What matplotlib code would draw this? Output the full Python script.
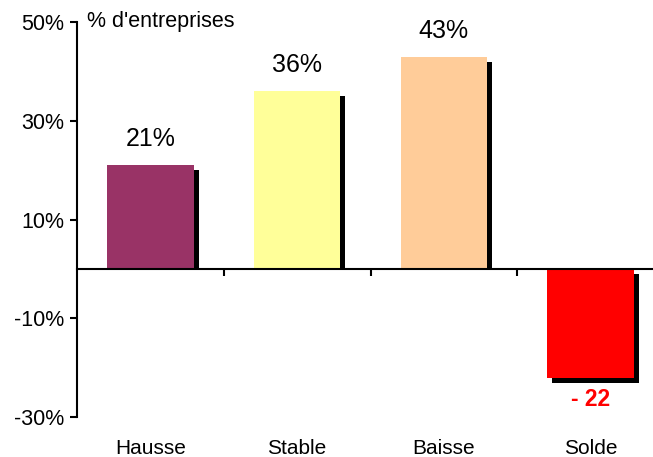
import matplotlib
matplotlib.use("Agg")
import matplotlib.pyplot as plt
import matplotlib.transforms as mtransforms
from matplotlib.patches import Rectangle

plt.rcParams['font.family'] = ['Liberation Sans', 'DejaVu Sans']

# data
categories = ['Hausse', 'Stable', 'Baisse', 'Solde']
values = [21, 36, 43, -22]
labels = ['21%', '36%', '43%', '- 22']
colors = ['#993366', '#FFFF99', '#FFCC99', '#FF0000']
yticks = [-30, -10, 10, 30, 50]

fig = plt.figure(figsize=(6.53, 4.57), dpi=100)
ax = fig.add_axes([77 / 653, 40 / 457, 587 / 653, 395 / 457])

x = list(range(len(categories)))
bw = 0.59

# shadows, shifted a few pixels right and down
shift = mtransforms.offset_copy(ax.transData, fig=fig, x=5, y=-5, units='dots')
shadows = ax.bar(x, values, width=bw, color='black', transform=shift, zorder=1)
clip = Rectangle((-1, 0), 10, 100, transform=ax.transData)
for b, v in zip(shadows, values):
    if v > 0:
        b.set_clip_path(clip)

ax.bar(x, values, width=bw, color=colors, zorder=2)

# value labels
for i, (v, lab) in enumerate(zip(values, labels)):
    if v >= 0:
        ax.annotate(lab, (i, v), xytext=(0, 26), textcoords='offset pixels',
                    ha='center', va='center', fontsize=18)
    else:
        ax.annotate(lab, (i, v), xytext=(0, -22), textcoords='offset pixels',
                    ha='center', va='center', fontsize=16.5, color='#FF0000',
                    fontweight='bold')

# category names under the plot
for i, c in enumerate(categories):
    ax.annotate(c, (i, 0), xycoords=('data', 'axes fraction'), xytext=(0, -31),
                textcoords='offset pixels', ha='center', va='center', fontsize=15)

ax.set_xlim(-0.5, 3.5)
ax.set_ylim(-30, 50)
ax.set_yticks(yticks)
ax.set_yticklabels([f'{t}%' for t in yticks], fontsize=15.5)
ax.set_xticks([0.5, 1.5, 2.5])
ax.set_xticklabels([])
ax.tick_params(axis='x', direction='out', length=5, width=1.5)
ax.tick_params(axis='y', direction='out', length=5, width=1.5, pad=4)

for s in ['top', 'right']:
    ax.spines[s].set_visible(False)
ax.spines['bottom'].set_position(('data', 0))
ax.spines['bottom'].set_linewidth(1.5)
ax.spines['left'].set_linewidth(1.5)
ax.spines['bottom'].set_zorder(3)

ax.text(0.017, 1.0, "% d'entreprises", transform=ax.transAxes, ha='left',
        va='center', fontsize=15.5)

fig.savefig('out.png', dpi=100)
